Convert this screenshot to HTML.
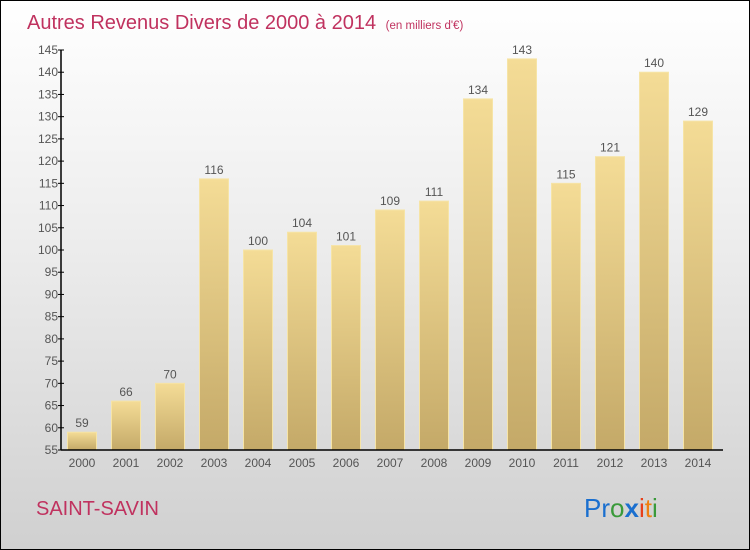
<!DOCTYPE html>
<html><head><meta charset="utf-8"><style>
body{margin:0}
#wrap{position:relative;width:748px;height:548px;border:1px solid #000;background:linear-gradient(#ffffff 0%,#ececec 45%,#d0d0d0 100%);overflow:hidden;font-family:"Liberation Sans",sans-serif}
</style></head><body>
<div id="wrap">
<svg id="chart" width="748" height="548" xmlns="http://www.w3.org/2000/svg">
<defs>
<linearGradient id="bg" x1="0" y1="0" x2="0" y2="1"><stop offset="0" stop-color="#f4dc96"/><stop offset="1" stop-color="#c4a968"/></linearGradient>
</defs>
<text x="26" y="28" font-size="20" fill="#c0325f">Autres Revenus Divers de 2000 à 2014 <tspan font-size="11.5" dx="4">(en milliers d'€)</tspan></text>
<g id="yaxis"></g><g id="bars"></g><g id="xaxis"></g>
<text x="35" y="514" font-size="20" fill="#c0325f">SAINT-SAVIN</text>
<text x="583" y="516" font-size="26"><tspan fill="#1a6fcf">Pr</tspan><tspan fill="#3a9a3a">o</tspan><tspan fill="#1a6fcf" font-weight="bold">x</tspan><tspan fill="#e8401a">i</tspan><tspan fill="#f08010">t</tspan><tspan fill="#3a9a3a">i</tspan></text>
</svg>
</div>
<script>
const years=["2000","2001","2002","2003","2004","2005","2006","2007","2008","2009","2010","2011","2012","2013","2014"];
const values=[59,66,70,116,100,104,101,109,111,134,143,115,121,140,129];
const yTicks=[55,60,65,70,75,80,85,90,95,100,105,110,115,120,125,130,135,140,145];
const NS="http://www.w3.org/2000/svg";
const y0=449,yTop=49,vMin=55,vMax=145;
function y(v){return y0-(v-vMin)*(y0-yTop)/(vMax-vMin);}
function xc(i){return 81+i*44;}
function mk(t,a,p,txt){const e=document.createElementNS(NS,t);for(const k in a)e.setAttribute(k,a[k]);if(txt!==undefined)e.textContent=txt;p.appendChild(e);return e;}
const ya=document.getElementById('yaxis'),ba=document.getElementById('bars'),xa=document.getElementById('xaxis');
let l=mk('line',{x1:60,x2:60,y1:yTop,y2:y0,stroke:'#000','stroke-width':1.5},ya);


yTicks.forEach(v=>{
 const t=mk('line',{x1:57,x2:63,y1:y(v),y2:y(v),stroke:'#000'},ya);
 
 
 const tx=mk('text',{x:57,y:y(v)+4,'font-size':12,'text-anchor':'end',fill:'#555'},ya,String(v));
 
 
});
values.forEach((v,i)=>{
 const r=mk('rect',{x:xc(i)-14.5,y:y(v),width:29,height:y0-y(v),fill:'url(#bg)',stroke:'#f6e4a6','stroke-width':1},ba);
 
 
 const t=mk('text',{x:xc(i),y:y(v)-5,'font-size':12,'text-anchor':'middle',fill:'#555'},ba,String(v));
 
 
 const xl=mk('text',{x:xc(i),y:466,'font-size':12,'text-anchor':'middle',fill:'#555'},xa,years[i]);
 
 
});
l=mk('line',{x1:60,x2:722,y1:y0,y2:y0,stroke:'#000','stroke-width':1.5},xa);


</script>
</body></html>
